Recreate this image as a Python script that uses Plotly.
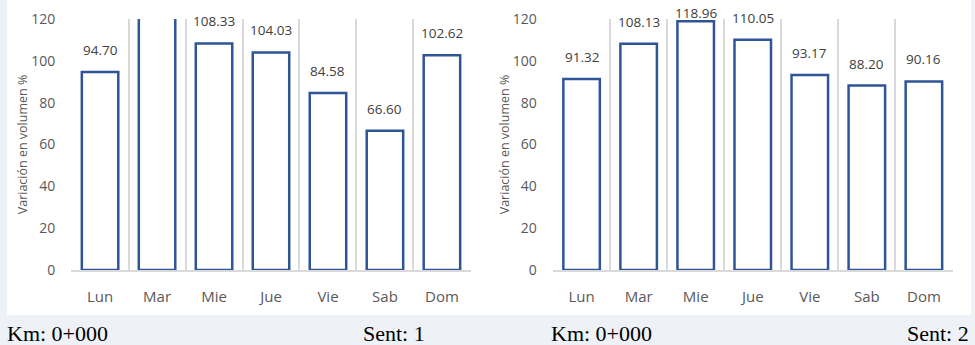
import plotly.graph_objects as go

# days of the week (category labels)
dias = ["Lun", "Mar", "Mie", "Jue", "Vie", "Sab", "Dom"]

# Sent: 1 - Mar is cut at the top of the axis, no label shown (value estimated)
sent1 = [94.70, 130.00, 108.33, 104.03, 84.58, 66.60, 102.62]
# Sent: 2
sent2 = [91.32, 108.13, 118.96, 110.05, 93.17, 88.20, 90.16]

y_ticks = [0, 20, 40, 60, 80, 100, 120]
y_max = 120

W, H = 975, 345
bar_color = "#2f5597"
grid_color = "#d9d9d9"
text_gray = "#595959"
label_gray = "#404040"
font_chart = "Open Sans"

# plot areas in pixels -> paper fractions
y_dom = [(H - 270) / H, (H - 19) / H]
x_dom_left = [71 / W, 471 / W]
x_dom_right = [552.5 / W, 953 / W]
px_per_unit = (270 - 19) / y_max

fig = go.Figure()

# white page panel behind both charts
fig.add_shape(type="rect", xref="paper", yref="paper",
              x0=7 / W, x1=971 / W, y0=(H - 315) / H, y1=1,
              fillcolor="white", line_width=0, layer="below")

xpos = list(range(len(dias)))
for k, vals in enumerate([sent1, sent2]):
    xa = "x" if k == 0 else "x2"
    ya = "y" if k == 0 else "y2"
    fig.add_trace(go.Bar(
        x=xpos, y=vals, xaxis=xa, yaxis=ya,
        marker=dict(color="white", line=dict(color=bar_color, width=2.5)),
        hoverinfo="skip", showlegend=False,
    ))
    # data labels like excel, pushed down when they would leave the chart
    for i, v in zip(xpos, vals):
        if v > y_max:
            continue
        shift = min(11, (y_max - v) * px_per_unit - 5)
        fig.add_annotation(
            x=i, y=v, xref=xa, yref=ya, text="%.2f" % v, showarrow=False,
            yanchor="bottom", yshift=shift,
            font=dict(family=font_chart, size=13.5, color=label_gray),
        )

grid_vals = [i - 0.5 for i in range(len(dias) + 1)]
xaxis_common = dict(
    range=[-0.51, 6.51], tickmode="array", tickvals=xpos, ticktext=dias,
    showgrid=False, zeroline=False, showline=True, linecolor=grid_color,
    linewidth=1.5, ticks="outside", ticklen=12, tickcolor="rgba(0,0,0,0)",
    tickfont=dict(family=font_chart, size=15, color=text_gray),
    minor=dict(tickmode="array", tickvals=grid_vals, showgrid=True,
               gridcolor=grid_color, gridwidth=1.5, ticks=""),
    automargin=False, fixedrange=True,
)
yaxis_common = dict(
    range=[0, y_max], tickmode="array", tickvals=y_ticks,
    showgrid=False, zeroline=False, showline=False,
    ticks="outside", ticklen=12, tickcolor="rgba(0,0,0,0)",
    tickfont=dict(family=font_chart, size=14, color=text_gray),
    title=dict(text="Variación en volumen %", standoff=0,
               font=dict(family=font_chart, size=12.5, color=text_gray)),
    domain=y_dom, automargin=False, fixedrange=True,
)

fig.update_layout(
    width=W, height=H,
    margin=dict(l=0, r=0, t=0, b=0, pad=0),
    paper_bgcolor="#eef2f7",
    plot_bgcolor="rgba(0,0,0,0)",
    bargap=0.36,
    xaxis=dict(xaxis_common, domain=x_dom_left, anchor="y"),
    yaxis=dict(yaxis_common, anchor="x"),
    xaxis2=dict(xaxis_common, domain=x_dom_right, anchor="y2"),
    yaxis2=dict(yaxis_common, anchor="x2"),
)

# captions under each chart
captions = [("Km: 0+000", 5), ("Sent: 1", 361), ("Km: 0+000", 549), ("Sent: 2", 905)]
for txt, xp in captions:
    fig.add_annotation(
        x=xp / W, y=(H - 333) / H, xref="paper", yref="paper", text=txt,
        showarrow=False, xanchor="left", yanchor="middle",
        font=dict(family="Liberation Serif", size=22, color="black"),
    )

# drop the default page margin so the figure fills the window
fig.write_html("out.html", config={"displayModeBar": False},
               post_script="document.body.style.margin='0px';")
